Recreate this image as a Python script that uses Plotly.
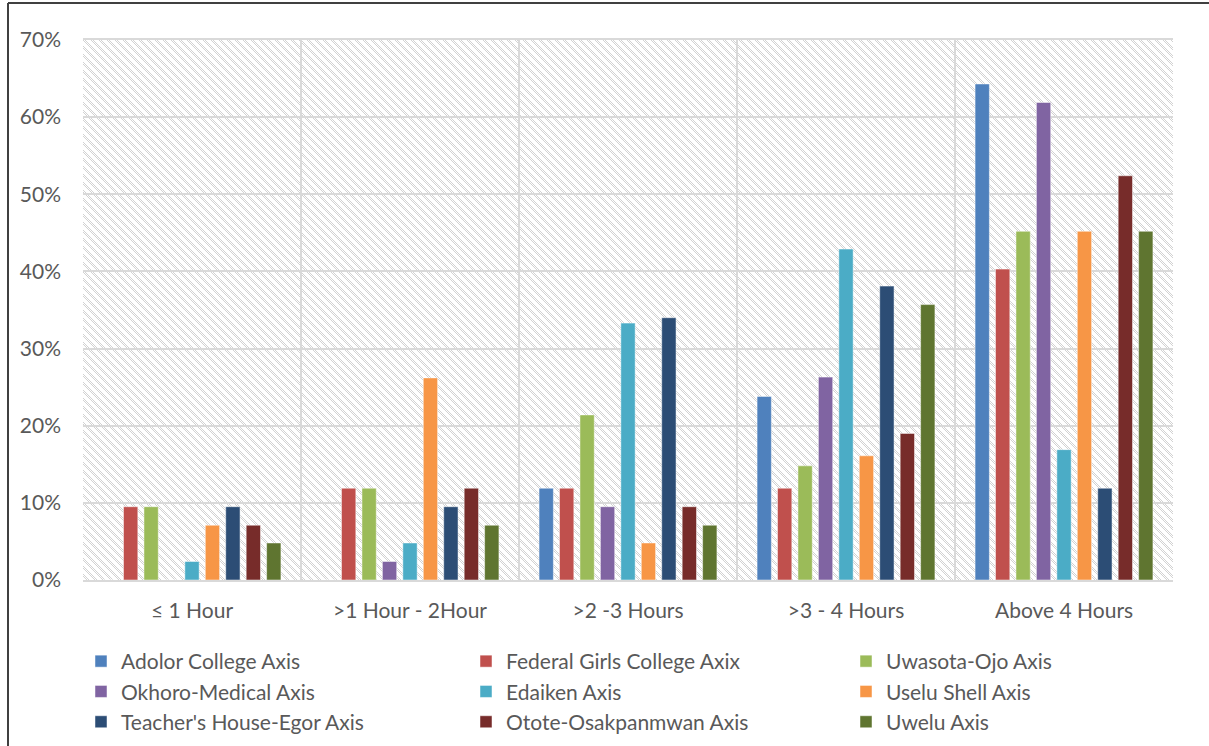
import base64
import plotly.graph_objects as go

categories = ["≤ 1 Hour", ">1 Hour - 2Hour", ">2 -3 Hours", ">3 - 4 Hours", "Above 4 Hours"]

adolor = [0, 0, 11.9, 23.8, 64.3]
federal = [9.5, 11.9, 11.9, 11.9, 40.3]
uwasota = [9.5, 11.9, 21.4, 14.8, 45.2]
okhoro = [0, 2.4, 9.5, 26.3, 61.9]
edaiken = [2.4, 4.8, 33.3, 42.9, 16.9]
uselu = [7.1, 26.2, 4.8, 16.1, 45.2]
teacher = [9.5, 9.5, 34.0, 38.1, 11.9]
otote = [7.1, 11.9, 9.5, 19.0, 52.4]
uwelu = [4.8, 7.1, 7.1, 35.7, 45.2]

series_names = [
    "Adolor College Axis", "Federal Girls College Axix", "Uwasota-Ojo Axis",
    "Okhoro-Medical Axis", "Edaiken Axis", "Uselu Shell Axis",
    "Teacher's House-Egor Axis", "Otote-Osakpanmwan Axis", "Uwelu Axis",
]
series_values = [adolor, federal, uwasota, okhoro, edaiken, uselu, teacher, otote, uwelu]
series_colors = ["#4F81BD", "#C0504D", "#9BBB59", "#8064A2", "#4BACC6",
                 "#F79646", "#2C4D75", "#772C2A", "#5F7530"]

W, H = 1209, 746
L, R, T, B = 83, 36, 40, 166
PW, PH = W - L - R, H - T - B

# hatched background texture for the plot area
rects = []
for y in range(8):
    for x in range(8):
        if (x - y) % 8 in (0, 1, 2, 3) and (x + y) % 2 == 0:
            rects.append(f'<rect x="{x}" y="{y}" width="1" height="1" fill="#d2d2d2"/>')
svg = (f'<svg xmlns="http://www.w3.org/2000/svg" width="{PW}" height="{PH}" shape-rendering="crispEdges">'
       '<defs><pattern id="p" width="8" height="8" patternUnits="userSpaceOnUse">'
       + "".join(rects) +
       '</pattern></defs>'
       f'<rect width="{PW}" height="{PH}" fill="white"/>'
       f'<rect width="{PW}" height="{PH}" fill="url(#p)"/></svg>')
src = "data:image/svg+xml;base64," + base64.b64encode(svg.encode()).decode()

legend_ids = ["legend", "legend2", "legend3"]

fig = go.Figure()
for i, (name, vals, col) in enumerate(zip(series_names, series_values, series_colors)):
    fig.add_trace(go.Bar(
        x=categories, y=vals, name=name,
        legend=legend_ids[i % 3], legendgroup=f"g{i}",
        marker=dict(color=col, line=dict(color="rgba(255,255,255,0.6)", width=0.8)),
    ))

font_family = "Lato, 'Open Sans', sans-serif"
FS = 21
legend_y = -(641 - (T + PH)) / PH
col_px = [81, 466, 846]
legend_common = dict(orientation="v", y=legend_y, xanchor="left", yanchor="top",
                     font=dict(size=FS, color="#595959"), traceorder="grouped",
                     tracegroupgap=0, bgcolor="rgba(0,0,0,0)")

fig.update_layout(
    width=W, height=H,
    margin=dict(l=L, r=R, t=T, b=B, autoexpand=False),
    paper_bgcolor="white", plot_bgcolor="white",
    barmode="group", bargap=0.156, bargroupgap=0.3,
    font=dict(family=font_family, size=FS, color="#595959"),
    images=[dict(source=src, xref="paper", yref="paper", x=0, y=1,
                 sizex=1, sizey=1, sizing="stretch", xanchor="left", yanchor="top",
                 layer="below")],
    legend=dict(x=(col_px[0] - L) / PW, **legend_common),
    legend2=dict(x=(col_px[1] - L) / PW, **legend_common),
    legend3=dict(x=(col_px[2] - L) / PW, **legend_common),
    shapes=[
        dict(type="line", xref="paper", yref="paper",
             x0=(8 - L) / PW, x1=(8 - L) / PW, y0=1 + (T - 3) / PH, y1=-(B + 5) / PH,
             line=dict(color="#404040", width=2)),
        dict(type="line", xref="paper", yref="paper",
             x0=(8 - L) / PW, x1=(W + 5 - L) / PW, y0=1 + (T - 3) / PH, y1=1 + (T - 3) / PH,
             line=dict(color="#404040", width=2)),
    ],
)
fig.update_xaxes(
    type="category", tickson="boundaries", showgrid=True, gridcolor="#d9d9d9", gridwidth=1.5,
    showline=True, linecolor="#d9d9d9", linewidth=1.5, mirror=True,
    ticks="", ticklabelstandoff=11, tickfont=dict(size=FS, color="#595959"),
)
fig.update_yaxes(
    range=[0, 70], dtick=10, ticksuffix="%", showgrid=True, gridcolor="#d9d9d9", gridwidth=1.5,
    zeroline=False, showline=False, ticks="", ticklabelstandoff=21,
    tickfont=dict(size=FS, color="#595959"),
)

fig.write_html("out.html")
